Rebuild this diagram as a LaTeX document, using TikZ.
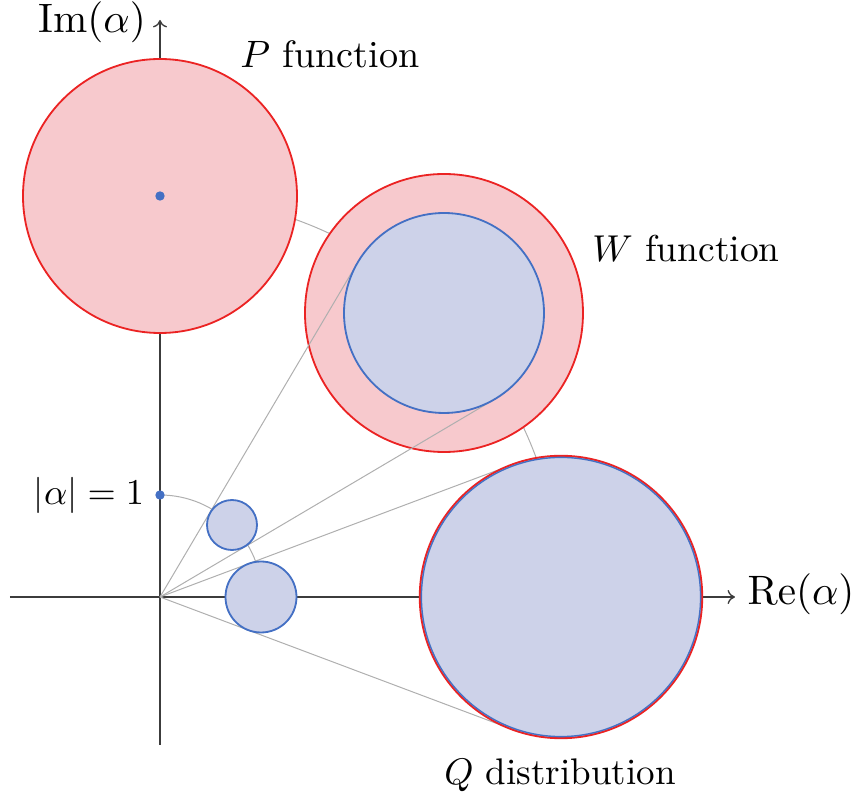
\documentclass[tikz,border=0pt]{standalone}
\usetikzlibrary{arrows.meta}
\definecolor{pinkfill}{RGB}{247,201,205}
\definecolor{redline}{RGB}{235,35,35}
\definecolor{bluefill}{RGB}{205,210,233}
\definecolor{blueline}{RGB}{68,112,196}
\definecolor{thingray}{RGB}{175,175,175}
\definecolor{axisgray}{RGB}{60,60,60}
\tikzset{
  axis/.style={draw=axisgray,line width=0.43pt,-{To[length=2pt,width=3.8pt,line width=0.36pt]}},
  guide/.style={draw=thingray,line width=0.27pt},
  redcirc/.style={fill=pinkfill,draw=redline,line width=0.49pt},
  bluecirc/.style={fill=bluefill,draw=blueline,line width=0.49pt},
  bluedot/.style={fill=blueline},
  lbl/.style={font=\fontsize{10}{12}\selectfont,inner sep=0pt,anchor=base}
}
\begin{document}
\begin{tikzpicture}[x=0.27pt,y=0.27pt]
\useasboundingbox (-160,-200) rectangle (699,597);
\coordinate (O) at (0,0);
\coordinate (xl) at (-150,0);
\coordinate (xr) at (575,0);
\coordinate (yb) at (0,-148);
\coordinate (yt) at (0,577);
\coordinate (Pc) at (0,401);
\coordinate (Wc) at (284,284);
\coordinate (Qc) at (401,0);
\coordinate (S1) at (72,72);
\coordinate (S2) at (101,0);
\coordinate (U) at (0,102);
% axes
\draw[axis] (xl) -- (xr);
\draw[axis] (yb) -- (yt);
% guide arcs
\draw[guide] (U) arc[start angle=90,end angle=0,radius=102];
\draw[guide] (Pc) arc[start angle=90,end angle=0,radius=401];
% P and W outer
\draw[redcirc] (Pc) circle[radius=137];
\draw[redcirc] (Wc) circle[radius=139];
% tangent lines
\coordinate (tW1) at (59.42:389);
\coordinate (tW2) at (30.58:389);
\coordinate (tQ1) at (20.59:378);
\coordinate (tQ2) at (-20.59:378);
\draw[guide] (O) -- (tW1);
\draw[guide] (O) -- (tW2);
\draw[guide] (O) -- (tQ1);
\draw[guide] (O) -- (tQ2);
% blue circles
\draw[bluecirc] (Wc) circle[radius=100];
\draw[bluecirc] (S1) circle[radius=25];
\draw[bluecirc] (S2) circle[radius=35.5];
\draw[fill=bluefill,draw=redline,line width=0.52pt] (Qc) circle[radius=141.2];
\draw[draw=blueline,line width=0.38pt] (Qc) circle[radius=139.6];
% dots
\fill[bluedot] (Pc) circle[radius=4.7];
\fill[bluedot] (U) circle[radius=4.7];
% labels
\node[lbl] (im) at (-68,564) {\scalebox{1.11}{$\mathrm{Im}(\alpha)$}};
\node[lbl] (re) at (641,-8) {\scalebox{1.11}{$\mathrm{Re}(\alpha)$}};
\node[lbl] (one) at (-71,92) {\scalebox{0.98}{$|\alpha|=1$}};
\node[lbl] (pl) at (170,529) {\scalebox{1.03}{$P$ function}};
\node[lbl] (wl) at (526,335) {\scalebox{1.01}{$W$ function}};
\node[lbl] (ql) at (400,-188) {$Q$ distribution};
\end{tikzpicture}
\end{document}
